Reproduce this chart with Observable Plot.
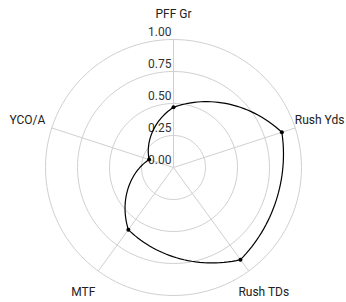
<!DOCTYPE html>
<html>
<head>
<meta charset="utf-8">
<script src="https://cdn.jsdelivr.net/npm/d3@7"></script>
<script src="https://cdn.jsdelivr.net/npm/@observablehq/plot@0.6"></script>
<style>
  html, body { margin: 0; padding: 0; background: #fff; }
  svg { display: block; }
</style>
</head>
<body>
<div id="chart"></div>
<script>
const axes = ["PFF Gr", "Rush Yds", "Rush TDs", "MTF", "YCO/A"];
const values = [0.47, 0.89, 0.89, 0.60, 0.20];
const ticks = [0, 0.25, 0.5, 0.75, 1.0];

const n = axes.length;
const ang = i => (2 * Math.PI * i) / n;

const pts = axes.map((a, i) => ({axis: a, v: values[i], x: values[i] * Math.sin(ang(i)), y: values[i] * Math.cos(ang(i))}));
const spokes = axes.map((a, i) => ({x1: 0, y1: 0, x2: Math.sin(ang(i)), y2: Math.cos(ang(i))}));
const labels = axes.map((a, i) => ({text: a, x: 1.2 * Math.sin(ang(i)), y: 1.2 * Math.cos(ang(i))}));
const rings = [];
ticks.filter(t => t > 0).forEach(t => {
  for (let k = 0; k < 120; k++) {
    const a = (2 * Math.PI * k) / 120;
    rings.push({r: t, x: t * Math.sin(a), y: t * Math.cos(a)});
  }
});

const W = 346, H = 302, cx = 173, cy = 167, R = 128;
const xDomain = [-cx / R, (W - cx) / R];
const yDomain = [(cy - H) / R, cy / R];

// center of the radar in screen space, taken from the same scales
const sx = Plot.scale({x: {domain: xDomain, range: [0, W]}});
const sy = Plot.scale({y: {domain: yDomain, range: [H, 0]}});
const C0 = [sx.apply(0), sy.apply(0)];

// closed curve: each segment blends a radial (spiral) path with its chord
function radialClosed(context) {
  let p;
  return {
    areaStart() {}, areaEnd() {},
    lineStart() { p = []; },
    point(x, y) { p.push([+x, +y]); },
    lineEnd() {
      const m = p.length; if (!m) return;
      const w = 0.28, steps = 32;
      const polar = ([x, y]) => [Math.hypot(x - C0[0], y - C0[1]), Math.atan2(x - C0[0], C0[1] - y)];
      context.moveTo(p[0][0], p[0][1]);
      for (let i = 0; i < m; i++) {
        const a = p[i], b = p[(i + 1) % m];
        const [r0, t0] = polar(a), [r1, t1] = polar(b);
        let dt = t1 - t0;
        while (dt <= -Math.PI) dt += 2 * Math.PI;
        while (dt > Math.PI) dt -= 2 * Math.PI;
        for (let k = 1; k <= steps; k++) {
          const t = k / steps;
          const r = r0 + (r1 - r0) * t, th = t0 + dt * t;
          const qx = C0[0] + r * Math.sin(th), qy = C0[1] - r * Math.cos(th);
          const lx = a[0] + (b[0] - a[0]) * t, ly = a[1] + (b[1] - a[1]) * t;
          context.lineTo((1 - w) * qx + w * lx, (1 - w) * qy + w * ly);
        }
      }
      context.closePath();
    }
  };
}

const chart = Plot.plot({
  width: W,
  height: H,
  margin: 0,
  style: {fontFamily: "Roboto", fontSize: "12px", background: "#fff"},
  x: {domain: xDomain, range: [0, W], axis: null},
  y: {domain: yDomain, range: [H, 0], axis: null},
  marks: [
    Plot.line(rings, {x: "x", y: "y", z: "r", curve: "linear-closed", stroke: "#d0d0d0", strokeWidth: 1}),
    Plot.link(spokes, {x1: "x1", y1: "y1", x2: "x2", y2: "y2", stroke: "#d0d0d0", strokeWidth: 1}),
    Plot.text(ticks, {x: 0, y: d => d, text: d => d.toFixed(2), textAnchor: "end", dx: -2, dy: -7, fill: "#333", fontSize: 12}),
    Plot.text(labels, {x: "x", y: "y", text: "text", textAnchor: "middle", fill: "#222", fontSize: 12}),
    Plot.line(pts, {x: "x", y: "y", curve: radialClosed, stroke: "#000", strokeWidth: 1.2}),
    Plot.dot(pts, {x: "x", y: "y", r: 2, fill: "#000"})
  ]
});
document.getElementById("chart").appendChild(chart);
</script>
</body>
</html>
